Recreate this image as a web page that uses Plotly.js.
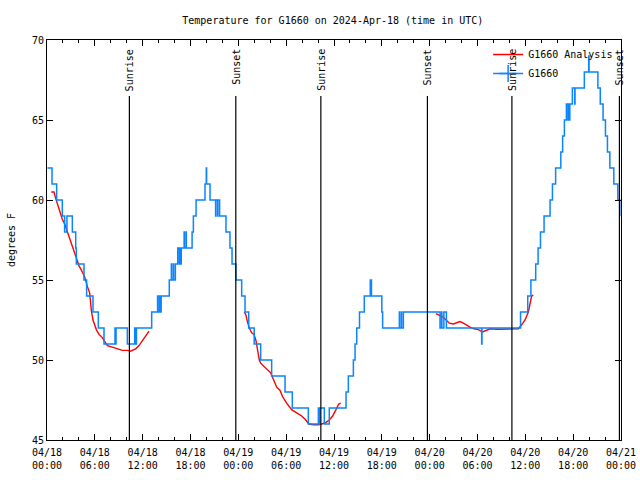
<!DOCTYPE html>
<html>
<head>
<meta charset="utf-8">
<script src="https://cdn.plot.ly/plotly-3.0.1.min.js"></script>
<style>html,body{margin:0;padding:0;background:#fff;}#chart{width:640px;height:480px;}</style>
</head>
<body>
<div id="chart"></div>
<script>
// Hours after 2024-04-18 00:00 UTC (observation change points)
const obsHours = [
  0.05,0.63,1.21,1.92,2.21,2.5,3.18,3.6,3.68,4.64,
  4.97,5.77,6.44,7.15,8.53,8.56,8.66,10.08,11.0,11.03,
  11.22,13.13,13.87,13.9,14.1,14.13,14.32,15.34,15.6,15.63,
  15.85,15.88,16.1,16.4,16.6,16.63,16.81,16.84,17.2,17.23,
  17.44,17.47,18.2,18.36,18.7,19.82,19.98,20.02,20.45,21.15,
  21.18,21.4,21.43,21.65,22.45,22.95,23.21,23.7,24.42,24.84,
  25.3,25.99,26.8,28.18,29.86,30.77,32.78,34.04,34.2,34.23,
  34.79,35.41,37.51,37.8,38.43,38.64,38.85,39.2,39.8,40.55,
  40.7,42.0,42.1,44.2,44.23,44.45,44.48,44.7,49.3,49.5,
  49.53,49.78,50.1,54.52,54.56,59.4,60.3,60.7,61.3,61.6,
  61.9,62.35,63.1,63.4,63.8,64.45,64.68,64.9,65.15,65.35,
  65.38,65.55,65.58,65.9,66.2,66.23,67.4,67.95,67.99,69.1,
  69.4,69.75,70.05,70.3,70.6,71.1,71.6,71.85,71.9];
const obsTemps = [
  62,61,60,59,58,59,58,57,56,55,
  54,53,52,51,52,51,52,51,52,51,
  52,53,54,53,54,53,54,55,56,55,
  56,55,56,57,56,57,56,57,58,57,
  58,57,58,59,60,61,62,61,60,59,
  60,59,60,59,58,57,56,55,54,53,
  52,51,50,49,48,47,46,47,46,47,
  46,47,48,49,50,51,52,53,54,55,
  54,53,52,53,52,53,52,53,52,53,
  52,53,52,51,52,53,54,55,56,57,
  58,59,60,61,62,63,64,65,66,65,
  66,65,66,67,66,67,68,69,68,67,
  66,65,64,63,62,61,60,59,59];

const anaHours = [0.54,0.88,1.09,1.38,1.71,1.92,2.22,2.55,2.97,3.39,3.68,4.01,4.43,4.72,5.06,5.35,5.56,5.77,6.19,6.52,
  6.94,7.36,7.57,8.2,8.82,9.45,10.08,10.5,10.7,11.12,11.54,11.96,12.38,12.8, null,
  24.75,24.96,25.13,25.38,25.67,25.97,26.22,26.38,26.63,26.8,27.22,27.63,28.05,28.39,28.81,29.23,29.56,30.06,30.69,
  31.32,31.95,32.37,32.86,33.41,34.04,34.46,35.0,35.41,35.83,36.25,36.59,36.84, null,
  48.79,49.21,49.63,50.05,50.47,50.97,51.39,51.81,52.23,52.64,53.06,53.56,54.11,54.65,55.07,55.57,56.41,57.24,58.29,
  59.13,59.54,59.96,60.38,60.58,60.79,61.0];
const anaTemps = [60.5,60.5,60.1,59.6,59.0,58.8,58.5,58.0,57.4,56.8,56.3,55.9,55.5,55.2,54.6,54.2,53.1,52.5,51.9,51.6,
  51.4,51.1,50.9,50.8,50.7,50.6,50.6,50.55,50.6,50.7,50.9,51.2,51.5,51.8, null,
  53.0,52.8,52.4,52.0,51.7,51.6,51.2,50.6,50.0,49.8,49.6,49.4,49.2,48.8,48.3,48.1,47.7,47.3,46.9,
  46.7,46.5,46.3,46.0,45.95,45.95,46.0,46.1,46.25,46.5,46.9,47.25,47.3, null,
  52.9,52.8,52.7,52.5,52.3,52.25,52.35,52.4,52.3,52.15,52.05,51.95,51.9,51.75,51.85,51.95,51.92,51.92,51.92,
  51.95,52.2,52.5,53.0,53.4,54.0,54.05];

const sunTimes = ['2024-04-18 10:20','2024-04-18 23:41','2024-04-19 10:21','2024-04-19 23:43','2024-04-20 10:19','2024-04-20 23:48'];
const sunLabels = ['Sunrise','Sunset','Sunrise','Sunset','Sunrise','Sunset'];

const titleText = 'Temperature for G1660 on 2024-Apr-18 (time in UTC)';
const obsName = 'G1660';
const anaName = 'G1660 Analysis';

const base = Date.UTC(2024, 3, 18);
function toDate(h) {
  if (h === null) return null;
  return new Date(base + h * 3600000).toISOString().replace('T', ' ').slice(0, 19);
}

const FONT = 'DejaVu Sans Mono, monospace';
const BLUE = '#0a84ff';
const RED = '#ff0000';

const traces = [
  {x: anaHours.map(toDate), y: anaTemps, type: 'scatter', mode: 'lines', name: anaName,
   line: {color: RED, width: 1.4}, connectgaps: false},
  {x: obsHours.map(toDate), y: obsTemps, type: 'scatter', mode: 'lines', name: obsName,
   line: {color: BLUE, width: 1.5, shape: 'hv'}, showlegend: false},
  {x: [null], y: [null], type: 'scatter', mode: 'lines+markers', name: obsName,
   line: {color: BLUE, width: 1.5}, marker: {symbol: 'cross-thin', size: 12, line: {color: BLUE, width: 1.5}}}
];

const shapes = sunTimes.map(t => ({type: 'line', xref: 'x', yref: 'paper', x0: t, x1: t, y0: 0, y1: 0.86,
  line: {color: '#000', width: 1.2}}));
const annotations = sunTimes.map((t, i) => ({x: t, xref: 'x', y: 1, yref: 'paper', yanchor: 'top', yshift: -7,
  text: sunLabels[i], textangle: -90, showarrow: false, font: {family: FONT, size: 10, color: '#000'}}));

const layout = {
  width: 640, height: 480,
  margin: {l: 47, r: 19, t: 40, b: 40},
  paper_bgcolor: '#fff', plot_bgcolor: '#fff',
  font: {family: FONT, size: 10, color: '#000'},
  title: {text: titleText, font: {family: FONT, size: 10, color: '#000'}, x: 0.52, xanchor: 'center', y: 0.957, yanchor: 'middle'},
  xaxis: {type: 'date', range: ['2024-04-18 00:00', '2024-04-21 00:00'], dtick: 6 * 3600000,
    tick0: '2024-04-18 00:00', tickformat: '%m/%d<br>%H:%M', ticks: 'inside', ticklen: 6, tickcolor: '#000',
    showline: true, linecolor: '#000', linewidth: 1, mirror: 'allticks', showgrid: false, zeroline: false,
    ticklabelstandoff: 3,
    minor: {dtick: 2 * 3600000, ticks: 'inside', ticklen: 3, tickcolor: '#000', showgrid: false},
    tickfont: {family: FONT, size: 10}},
  yaxis: {range: [45, 70], dtick: 5, ticks: 'inside', ticklen: 6, tickcolor: '#000',
    showline: true, linecolor: '#000', linewidth: 1, mirror: 'allticks', showgrid: false, zeroline: false,
    tickfont: {family: FONT, size: 10},
    title: {text: 'degrees F', font: {family: FONT, size: 10}, standoff: 14}},
  showlegend: true,
  legend: {x: 0.995, xanchor: 'right', y: 1, yanchor: 'top', bgcolor: 'rgba(0,0,0,0)',
    font: {family: FONT, size: 10}, tracegroupgap: 0, itemwidth: 30},
  shapes: shapes,
  annotations: annotations
};

Plotly.newPlot('chart', traces, layout, {displayModeBar: false, staticPlot: true});
</script>
</body>
</html>
